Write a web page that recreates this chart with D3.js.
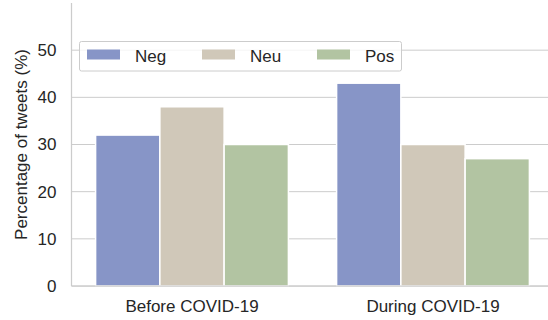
<!DOCTYPE html>
<html><head><meta charset="utf-8">
<script src="https://cdn.jsdelivr.net/npm/d3@7"></script>
<style>
html,body{margin:0;padding:0;background:#fff;}
svg{display:block;font-family:"Liberation Sans",Arial,sans-serif;}
</style></head>
<body>
<svg id="chart" width="548" height="320"></svg>
<script>
const categories = ["Before COVID-19", "During COVID-19"];
const sentiments = ["Neg", "Neu", "Pos"];
const negValues = [32, 43];
const neuValues = [38, 30];
const posValues = [30, 27];
const yTicks = [0, 10, 20, 30, 40, 50];
const yLabel = "Percentage of tweets (%)";
const colors = ["#8795c7", "#d0c8b9", "#b2c4a2"];

(function () {
const seriesValues = [negValues, neuValues, posValues];
const data = [];
categories.forEach((c, i) => sentiments.forEach((s, j) => data.push({cat: c, sent: s, value: seriesValues[j][i]})));

const svg = d3.select("#chart");
const mLeft = 71.5, mRight = 553.5, mTop = 3, mBottom = 286;
const fs = 17;

const x = d3.scaleBand().domain(categories).range([mLeft, mRight]).paddingInner(0.2).paddingOuter(0.1);
const xs = d3.scaleBand().domain(sentiments).range([0, x.bandwidth()]).padding(0);
const y = d3.scaleLinear().domain([0, 60]).range([mBottom, mTop]);
const color = d3.scaleOrdinal().domain(sentiments).range(colors);

// grid
svg.append("g").selectAll("line").data(yTicks).join("line")
  .attr("x1", mLeft).attr("x2", mRight)
  .attr("y1", d => y(d)).attr("y2", d => y(d))
  .attr("stroke", "#cccccc").attr("stroke-width", 1);

// bars
svg.append("g").selectAll("rect").data(data).join("rect")
  .attr("x", d => x(d.cat) + xs(d.sent))
  .attr("width", xs.bandwidth())
  .attr("y", d => y(d.value))
  .attr("height", d => y(0) - y(d.value))
  .attr("fill", d => color(d.sent))
  .attr("stroke", "#ffffff").attr("stroke-width", 1.5);

// y axis
const yAxis = svg.append("g").attr("transform", `translate(${mLeft},0)`)
  .call(d3.axisLeft(y).tickValues(yTicks).tickSize(0).tickPadding(15));
yAxis.select(".domain").attr("stroke", "#cccccc").attr("stroke-width", 1.25)
  .attr("d", `M0,${mTop}V${mBottom}`);
yAxis.selectAll("text").attr("font-size", fs).attr("fill", "#262626")
  .attr("font-family", "Liberation Sans, Arial, sans-serif");

// x axis
const xAxis = svg.append("g").attr("transform", `translate(0,${mBottom})`)
  .call(d3.axisBottom(x).tickSize(0).tickPadding(13.5));
xAxis.select(".domain").attr("stroke", "#cccccc").attr("stroke-width", 1.25)
  .attr("d", `M${mLeft},0H${mRight}`);
xAxis.selectAll("text").attr("font-size", fs).attr("fill", "#262626")
  .attr("font-family", "Liberation Sans, Arial, sans-serif");

// y label
svg.append("text")
  .attr("transform", `translate(27,${(mTop + mBottom) / 2}) rotate(-90)`)
  .attr("text-anchor", "middle")
  .attr("font-size", fs).attr("fill", "#262626")
  .text(yLabel);

// legend
const lg = svg.append("g");
lg.append("rect").attr("x", 79.5).attr("y", 41.5).attr("width", 322).attr("height", 29.5)
  .attr("rx", 2).attr("fill", "#ffffff").attr("fill-opacity", 0.8)
  .attr("stroke", "#cccccc").attr("stroke-width", 1);
const legX = [87, 202, 317];
sentiments.forEach((s, i) => {
  lg.append("rect").attr("x", legX[i]).attr("y", 49.5).attr("width", 33).attr("height", 10)
    .attr("fill", color(s));
  lg.append("text").attr("x", legX[i] + 48).attr("y", 61.5)
    .attr("font-size", fs).attr("fill", "#262626").text(s);
});
})();
</script>
</body></html>
